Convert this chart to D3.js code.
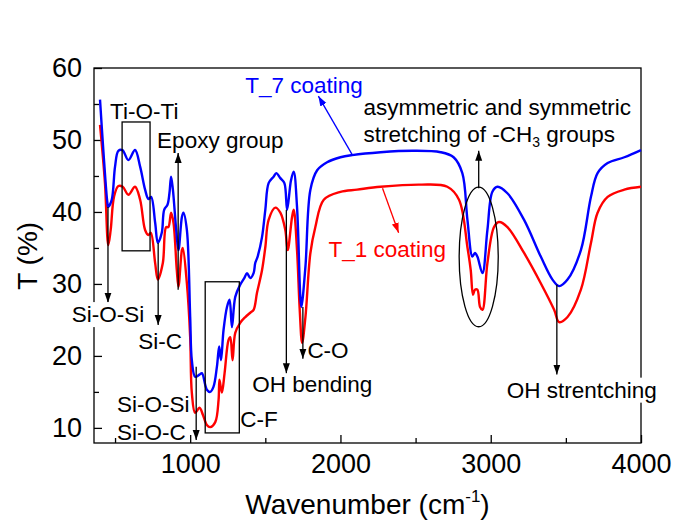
<!DOCTYPE html>
<html>
<head>
<meta charset="utf-8">
<script src="https://cdn.jsdelivr.net/npm/d3@7"></script>
<style>
  body { margin: 0; background: #fff; }
  svg { display: block; }
</style>
</head>
<body>
<svg></svg>
<script>
// FTIR spectra (wavenumber in cm-1, transmittance in %)
const t7Wave = [400, 422, 449, 455, 478, 500, 522, 549, 589, 633, 667, 700, 722, 740, 767, 785, 811, 827, 849, 862, 873, 885, 907, 922, 945, 955, 978, 1000, 1011, 1033, 1062, 1078, 1111, 1133, 1155, 1178, 1193, 1205, 1222, 1245, 1262, 1278, 1300, 1333, 1360, 1378, 1400, 1422, 1433, 1449, 1478, 1500, 1522, 1555, 1573, 1600, 1627, 1645, 1671, 1689, 1711, 1733, 1740, 1767, 1800, 1845, 1911, 2000, 2078, 2267, 2487, 2667, 2753, 2811, 2845, 2878, 2895, 2911, 2945, 2978, 3011, 3045, 3111, 3222, 3333, 3411, 3455, 3511, 3600, 3667, 3711, 3778, 3889, 4000];
const t7Trans = [55.6, 48.6, 41.3, 40.7, 41.7, 46.3, 48.5, 48.6, 47.2, 48.6, 46.3, 43.1, 41.8, 42.1, 38.5, 35.7, 37.1, 40.3, 41.0, 42.6, 44.9, 43.1, 37.5, 34.7, 39.3, 39.9, 37.5, 25.4, 19.4, 17.1, 17.4, 17.6, 15.3, 15.0, 15.7, 18.5, 21.3, 19.4, 23.6, 26.8, 27.8, 24.0, 28.2, 29.9, 30.8, 31.5, 30.8, 31.5, 32.9, 33.8, 36.5, 40.3, 44.0, 44.9, 45.4, 44.7, 44.0, 40.3, 44.4, 45.6, 40.7, 28.2, 26.8, 32.4, 43.1, 45.8, 46.9, 47.6, 47.9, 48.3, 48.5, 48.3, 47.6, 45.4, 38.9, 33.8, 34.3, 33.8, 31.5, 37.5, 42.8, 43.5, 42.6, 38.9, 33.8, 30.6, 29.7, 30.6, 34.7, 42.1, 45.4, 46.8, 47.6, 48.6];

const t1Wave = [400, 433, 455, 471, 493, 522, 551, 589, 633, 667, 700, 722, 738, 767, 785, 818, 840, 855, 873, 889, 911, 922, 945, 951, 978, 1000, 1011, 1033, 1062, 1085, 1111, 1133, 1167, 1189, 1195, 1211, 1229, 1255, 1267, 1282, 1300, 1333, 1367, 1400, 1422, 1445, 1478, 1500, 1522, 1567, 1600, 1633, 1649, 1678, 1689, 1711, 1729, 1745, 1767, 1800, 1833, 1889, 2000, 2111, 2267, 2533, 2711, 2789, 2845, 2867, 2882, 2895, 2911, 2929, 2945, 2978, 3022, 3055, 3111, 3222, 3333, 3422, 3455, 3511, 3600, 3667, 3711, 3778, 3889, 4000];
const t1Trans = [52.1, 44.0, 35.4, 37.5, 42.1, 43.6, 43.5, 42.4, 43.5, 41.7, 37.5, 36.8, 37.1, 32.9, 30.6, 32.9, 37.9, 37.9, 39.9, 38.5, 31.9, 29.6, 34.7, 35.0, 30.1, 22.6, 14.9, 12.1, 12.8, 11.8, 10.4, 10.1, 10.8, 13.9, 16.7, 14.9, 17.6, 22.2, 22.6, 19.4, 23.2, 24.6, 25.4, 26.0, 26.4, 28.8, 31.9, 35.1, 38.9, 40.6, 39.9, 37.5, 34.7, 39.3, 40.3, 34.7, 26.4, 21.8, 25.4, 34.3, 37.9, 41.7, 42.8, 43.1, 43.5, 43.8, 43.5, 41.7, 35.1, 31.9, 28.5, 29.2, 29.2, 26.8, 26.4, 32.9, 37.9, 38.6, 37.9, 34.3, 30.1, 26.4, 24.7, 25.4, 29.2, 35.7, 39.9, 42.1, 43.1, 43.5];

const xTicks = [1000, 2000, 3000, 4000];
const xMinor = [500, 1500, 2500, 3500];
const yTicks = [10, 20, 30, 40, 50, 60];
const yMinor = [15, 25, 35, 45, 55];

const width = 673, height = 523;
const margin = { top: 68, right: 32, bottom: 80, left: 94 };
const font = "'Liberation Sans', Arial, sans-serif";

const svg = d3.select("svg")
    .attr("width", width)
    .attr("height", height)
    .style("font-family", font);

const x = d3.scaleLinear()
    .domain([360, 4000])
    .range([margin.left, width - margin.right]);

const y = d3.scaleLinear()
    .domain([7.9, 60])
    .range([height - margin.bottom, margin.top]);

const series = [
    { name: "T_1", wave: t1Wave, trans: t1Trans, color: "#ff0000" },
    { name: "T_7", wave: t7Wave, trans: t7Trans, color: "#0000ff" }
];

// frame
svg.append("rect")
    .attr("x", x(360))
    .attr("y", y(60))
    .attr("width", x(4000) - x(360))
    .attr("height", y(7.9) - y(60))
    .attr("fill", "none")
    .attr("stroke", "#000")
    .attr("stroke-width", 1.3);

// axes with inward ticks
svg.append("g")
    .attr("transform", `translate(0,${y(7.9)})`)
    .call(d3.axisBottom(x).tickValues(xTicks).tickFormat(d3.format("d")).tickSize(-8).tickPadding(11));
svg.append("g")
    .attr("transform", `translate(0,${y(7.9)})`)
    .call(d3.axisBottom(x).tickValues(xMinor).tickSize(-5).tickFormat(""));

svg.append("g")
    .attr("transform", `translate(${x(360)},0)`)
    .call(d3.axisLeft(y).tickValues(yTicks).tickSize(-8).tickPadding(12));
svg.append("g")
    .attr("transform", `translate(${x(360)},0)`)
    .call(d3.axisLeft(y).tickValues(yMinor).tickSize(-5).tickFormat(""));

svg.selectAll(".domain").remove();
svg.selectAll(".tick line").attr("stroke", "#000").attr("stroke-width", 1.3);
svg.selectAll(".tick text")
    .attr("font-family", font)
    .attr("font-size", 27)
    .attr("fill", "#000");

// axis titles
const xTitle = svg.append("text")
    .attr("x", (x(360) + x(4000)) / 2)
    .attr("y", 514)
    .attr("text-anchor", "middle")
    .attr("font-size", 28)
    .text("Wavenumber (cm");
xTitle.append("tspan").attr("font-size", 17).attr("dy", -12).text("-1");
xTitle.append("tspan").attr("dy", 12).text(")");

svg.append("text")
    .attr("transform", `translate(37,${y(33.9)}) rotate(-90)`)
    .attr("text-anchor", "middle")
    .attr("font-size", 28)
    .text("T (%)");

// spectra
const line = d3.line()
    .x(d => x(d[0]))
    .y(d => y(d[1]))
    .curve(d3.curveCatmullRom.alpha(0.5));

svg.selectAll(".spectrum")
    .data(series)
    .join("path")
    .attr("class", "spectrum")
    .attr("d", s => line(d3.zip(s.wave, s.trans)))
    .attr("fill", "none")
    .attr("stroke", s => s.color)
    .attr("stroke-width", 2.4)
    .attr("stroke-linejoin", "round");

// arrow markers
const defs = svg.append("defs");
[["arrow-k", "#000"], ["arrow-b", "#0000ff"], ["arrow-r", "#ff0000"]].forEach(([id, c]) => {
    defs.append("marker")
        .attr("id", id)
        .attr("viewBox", "0 0 10 10")
        .attr("refX", 10)
        .attr("refY", 5)
        .attr("markerWidth", 10)
        .attr("markerHeight", 10)
        .attr("markerUnits", "userSpaceOnUse")
        .attr("orient", "auto")
        .append("path")
        .attr("d", "M0,1.5 L10,5 L0,8.5 Z")
        .attr("fill", c);
});

// annotation arrows: [x1, y1, x2, y2, marker, colour]
const arrows = [
    [453, 40.7, 453, 27.4, "arrow-k", "#000"],
    [787, 35.7, 787, 24.3, "arrow-k", "#000"],
    [920, 29.2, 920, 48.2, "arrow-k", "#000"],
    [1040, 18.5, 1040, 8.3, "arrow-k", "#000"],
    [1640, 40.3, 1640, 17.6, "arrow-k", "#000"],
    [1750, 26.8, 1750, 19.6, "arrow-k", "#000"],
    [2920, 43.3, 2920, 48.5, "arrow-k", "#000"],
    [3440, 29.9, 3440, 17.4, "arrow-k", "#000"],
    [2080, 47.9, 1853, 56.1, "arrow-b", "#0000ff"],
    [2280, 43.3, 2387, 37.1, "arrow-r", "#ff0000"]
];

svg.selectAll(".arrow")
    .data(arrows)
    .join("line")
    .attr("class", "arrow")
    .attr("x1", d => x(d[0]))
    .attr("y1", d => y(d[1]))
    .attr("x2", d => x(d[2]))
    .attr("y2", d => y(d[3]))
    .attr("stroke", d => d[5])
    .attr("stroke-width", 1.3)
    .attr("marker-end", d => `url(#${d[4]})`);

// boxes around bands
const boxes = [
    [547, 733, 52.5, 34.6],
    [1100, 1327, 30.3, 9.3]
];
svg.selectAll(".box")
    .data(boxes)
    .join("rect")
    .attr("class", "box")
    .attr("x", d => x(d[0]))
    .attr("y", d => y(d[2]))
    .attr("width", d => x(d[1]) - x(d[0]))
    .attr("height", d => y(d[3]) - y(d[2]))
    .attr("fill", "none")
    .attr("stroke", "#000")
    .attr("stroke-width", 1.3);

svg.append("ellipse")
    .attr("cx", x(2920))
    .attr("cy", y(33.75))
    .attr("rx", x(2920 + 130) - x(2920))
    .attr("ry", y(33.75 - 9.7) - y(33.75))
    .attr("fill", "none")
    .attr("stroke", "#000")
    .attr("stroke-width", 1.3);

// labels: [text, x, y, anchor, colour, white background]
const labels = [
    ["Ti-O-Ti", 467, 52.9, "start", "#000", false],
    ["Epoxy group", 780, 48.9, "start", "#000", false],
    ["Si-O-Si", 453, 24.7, "middle", "#000", true],
    ["Si-C", 800, 21.0, "middle", "#000", false],
    ["Si-O-Si", 513, 12.2, "start", "#000", false],
    ["Si-O-C", 513, 8.3, "start", "#000", false],
    ["C-F", 1333, 10.1, "start", "#000", false],
    ["OH bending", 1413, 15.0, "start", "#000", false],
    ["C-O", 1780, 19.7, "start", "#000", false],
    ["OH strentching", 3107, 14.2, "start", "#000", true],
    ["asymmetric and symmetric", 2153, 53.5, "start", "#000", false],
    ["T_7 coating", 1367, 56.5, "start", "#0000ff", false],
    ["T_1 coating", 1920, 33.75, "start", "#ff0000", false]
];

labels.forEach(([t, lx, ly, anchor, c, bg]) => {
    const g = svg.append("g");
    const txt = g.append("text")
        .attr("x", x(lx))
        .attr("y", y(ly))
        .attr("text-anchor", anchor)
        .attr("font-size", 22.5)
        .attr("fill", c)
        .text(t);
    if (bg) {
        const b = txt.node().getBBox();
        g.insert("rect", "text")
            .attr("x", b.x - 1)
            .attr("y", b.y)
            .attr("width", b.width + 2)
            .attr("height", b.height)
            .attr("fill", "#fff");
    }
});

const ch3 = svg.append("text")
    .attr("x", x(2153))
    .attr("y", y(49.7))
    .attr("font-size", 22.5)
    .attr("fill", "#000")
    .text("stretching of -CH");
ch3.append("tspan").attr("font-size", 14).attr("dy", 5).text("3");
ch3.append("tspan").attr("dy", -5).text(" groups");
</script>
</body>
</html>
